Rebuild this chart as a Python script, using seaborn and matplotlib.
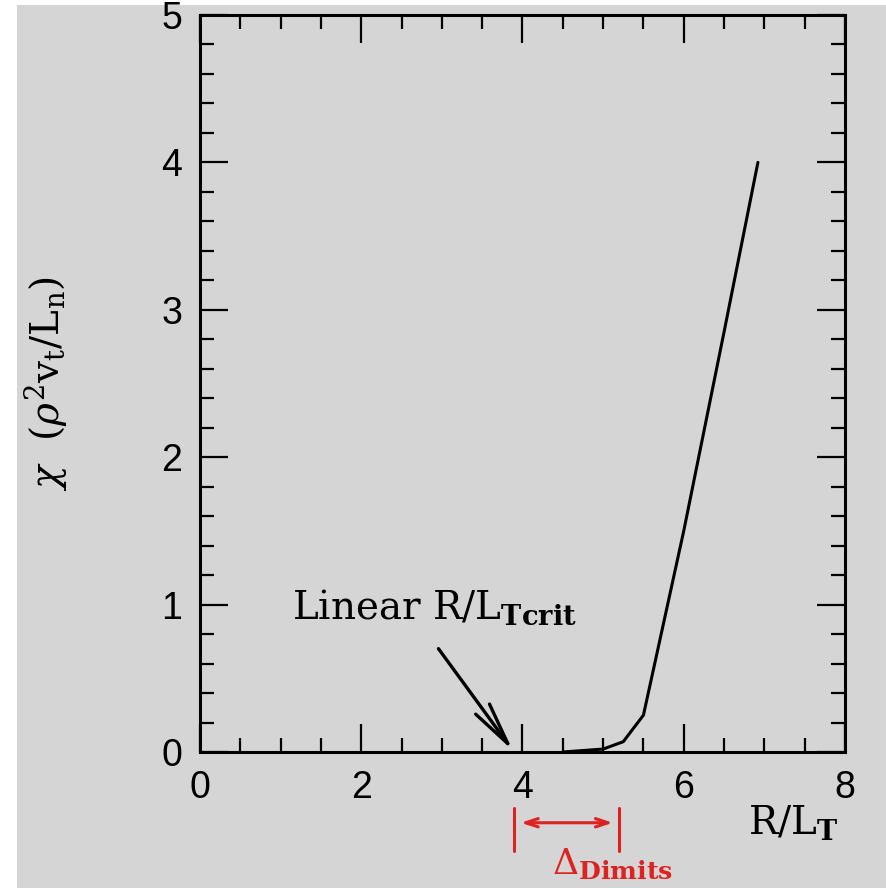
import matplotlib
matplotlib.use("Agg")
import matplotlib.pyplot as plt
import seaborn as sns
import pandas as pd
from matplotlib.ticker import MultipleLocator
from matplotlib.patches import Rectangle

# ---- data ----
r_over_lt = [4.5, 4.75, 5.0, 5.25, 5.5, 6.0, 6.5, 6.92]
chi = [0.0, 0.01, 0.02, 0.07, 0.25, 1.5, 2.85, 4.0]
x_ticks = [0, 2, 4, 6, 8]
y_ticks = [0, 1, 2, 3, 4, 5]
linear_crit = 3.88
dimits_range = [3.90, 5.20]

df = pd.DataFrame({"R/L_T": r_over_lt, "chi": chi})

sns.set_style("ticks")
bg = "#d5d5d5"
plt.rcParams["font.family"] = ["DejaVu Serif"]
plt.rcParams["mathtext.fontset"] = "dejavuserif"
for k in ["text.color", "axes.labelcolor", "xtick.color", "ytick.color",
          "xtick.labelcolor", "ytick.labelcolor"]:
    plt.rcParams[k] = "black"

fig = plt.figure(figsize=(8.87, 8.88), dpi=100, facecolor=bg)
ax = fig.add_axes([200 / 887, 1 - 752 / 888, 645 / 887, 737 / 888])
ax.set_facecolor(bg)

# white margins (scan border)
fig.patches.append(Rectangle((0, 0), 17 / 887, 1, transform=fig.transFigure,
                             facecolor="white", edgecolor="none", zorder=-1))
fig.patches.append(Rectangle((0, 1 - 5 / 888), 1, 5 / 888, transform=fig.transFigure,
                             facecolor="white", edgecolor="none", zorder=-1))

sns.lineplot(data=df, x="R/L_T", y="chi", ax=ax, color="black", linewidth=2.2,
             sort=False, estimator=None)

ax.set_xlim(0, 8)
ax.set_ylim(0, 5)
ax.set_xticks(x_ticks)
ax.set_yticks(y_ticks)
ax.xaxis.set_minor_locator(MultipleLocator(0.5))
ax.yaxis.set_minor_locator(MultipleLocator(0.2))
ax.tick_params(which="both", direction="in", top=True, right=True, width=1.6,
               color="black")
ax.tick_params(which="major", length=20, labelsize=27, pad=13)
ax.tick_params(which="minor", length=10)
for lab in ax.get_xticklabels() + ax.get_yticklabels():
    lab.set_fontfamily("Liberation Sans")
for s in ax.spines.values():
    s.set_linewidth(2.2)
    s.set_color("black")

ax.set_xlabel("")
ax.set_ylabel(r"$\chi$  ($\rho^2\mathrm{v}_\mathrm{t}/\mathrm{L}_\mathrm{n}$)",
              fontsize=28, labelpad=66)

ax.text(0.99, -0.095, r"R/L$_\mathbf{T}$", transform=ax.transAxes, fontsize=28,
        ha="right", va="center")

ax.annotate(r"Linear R/L$_\mathbf{Tcrit}$", xy=(linear_crit, 0.01), xytext=(1.14, 0.90),
            fontsize=28, ha="left", va="baseline",
            arrowprops=dict(arrowstyle="->,head_length=1.1,head_width=0.22",
                            color="black", lw=2.4, shrinkA=12, shrinkB=0,
                            relpos=(0.48, -0.2)))

red = "#dd2222"
for xv in dimits_range:
    ax.plot([xv, xv], [-0.38, -0.67], color=red, lw=2.2, clip_on=False)
ax.annotate("", xy=(dimits_range[0] + 0.08, -0.48), xytext=(dimits_range[1] - 0.08, -0.48),
            arrowprops=dict(arrowstyle="<->,head_length=0.9,head_width=0.3",
                            color=red, lw=2.2, shrinkA=0, shrinkB=0),
            annotation_clip=False)
ax.text(4.37, -0.76, r"$\Delta_\mathbf{Dimits}$", color=red, fontsize=26,
        ha="left", va="center", clip_on=False)

fig.savefig("out.png", dpi=100, facecolor=bg)
